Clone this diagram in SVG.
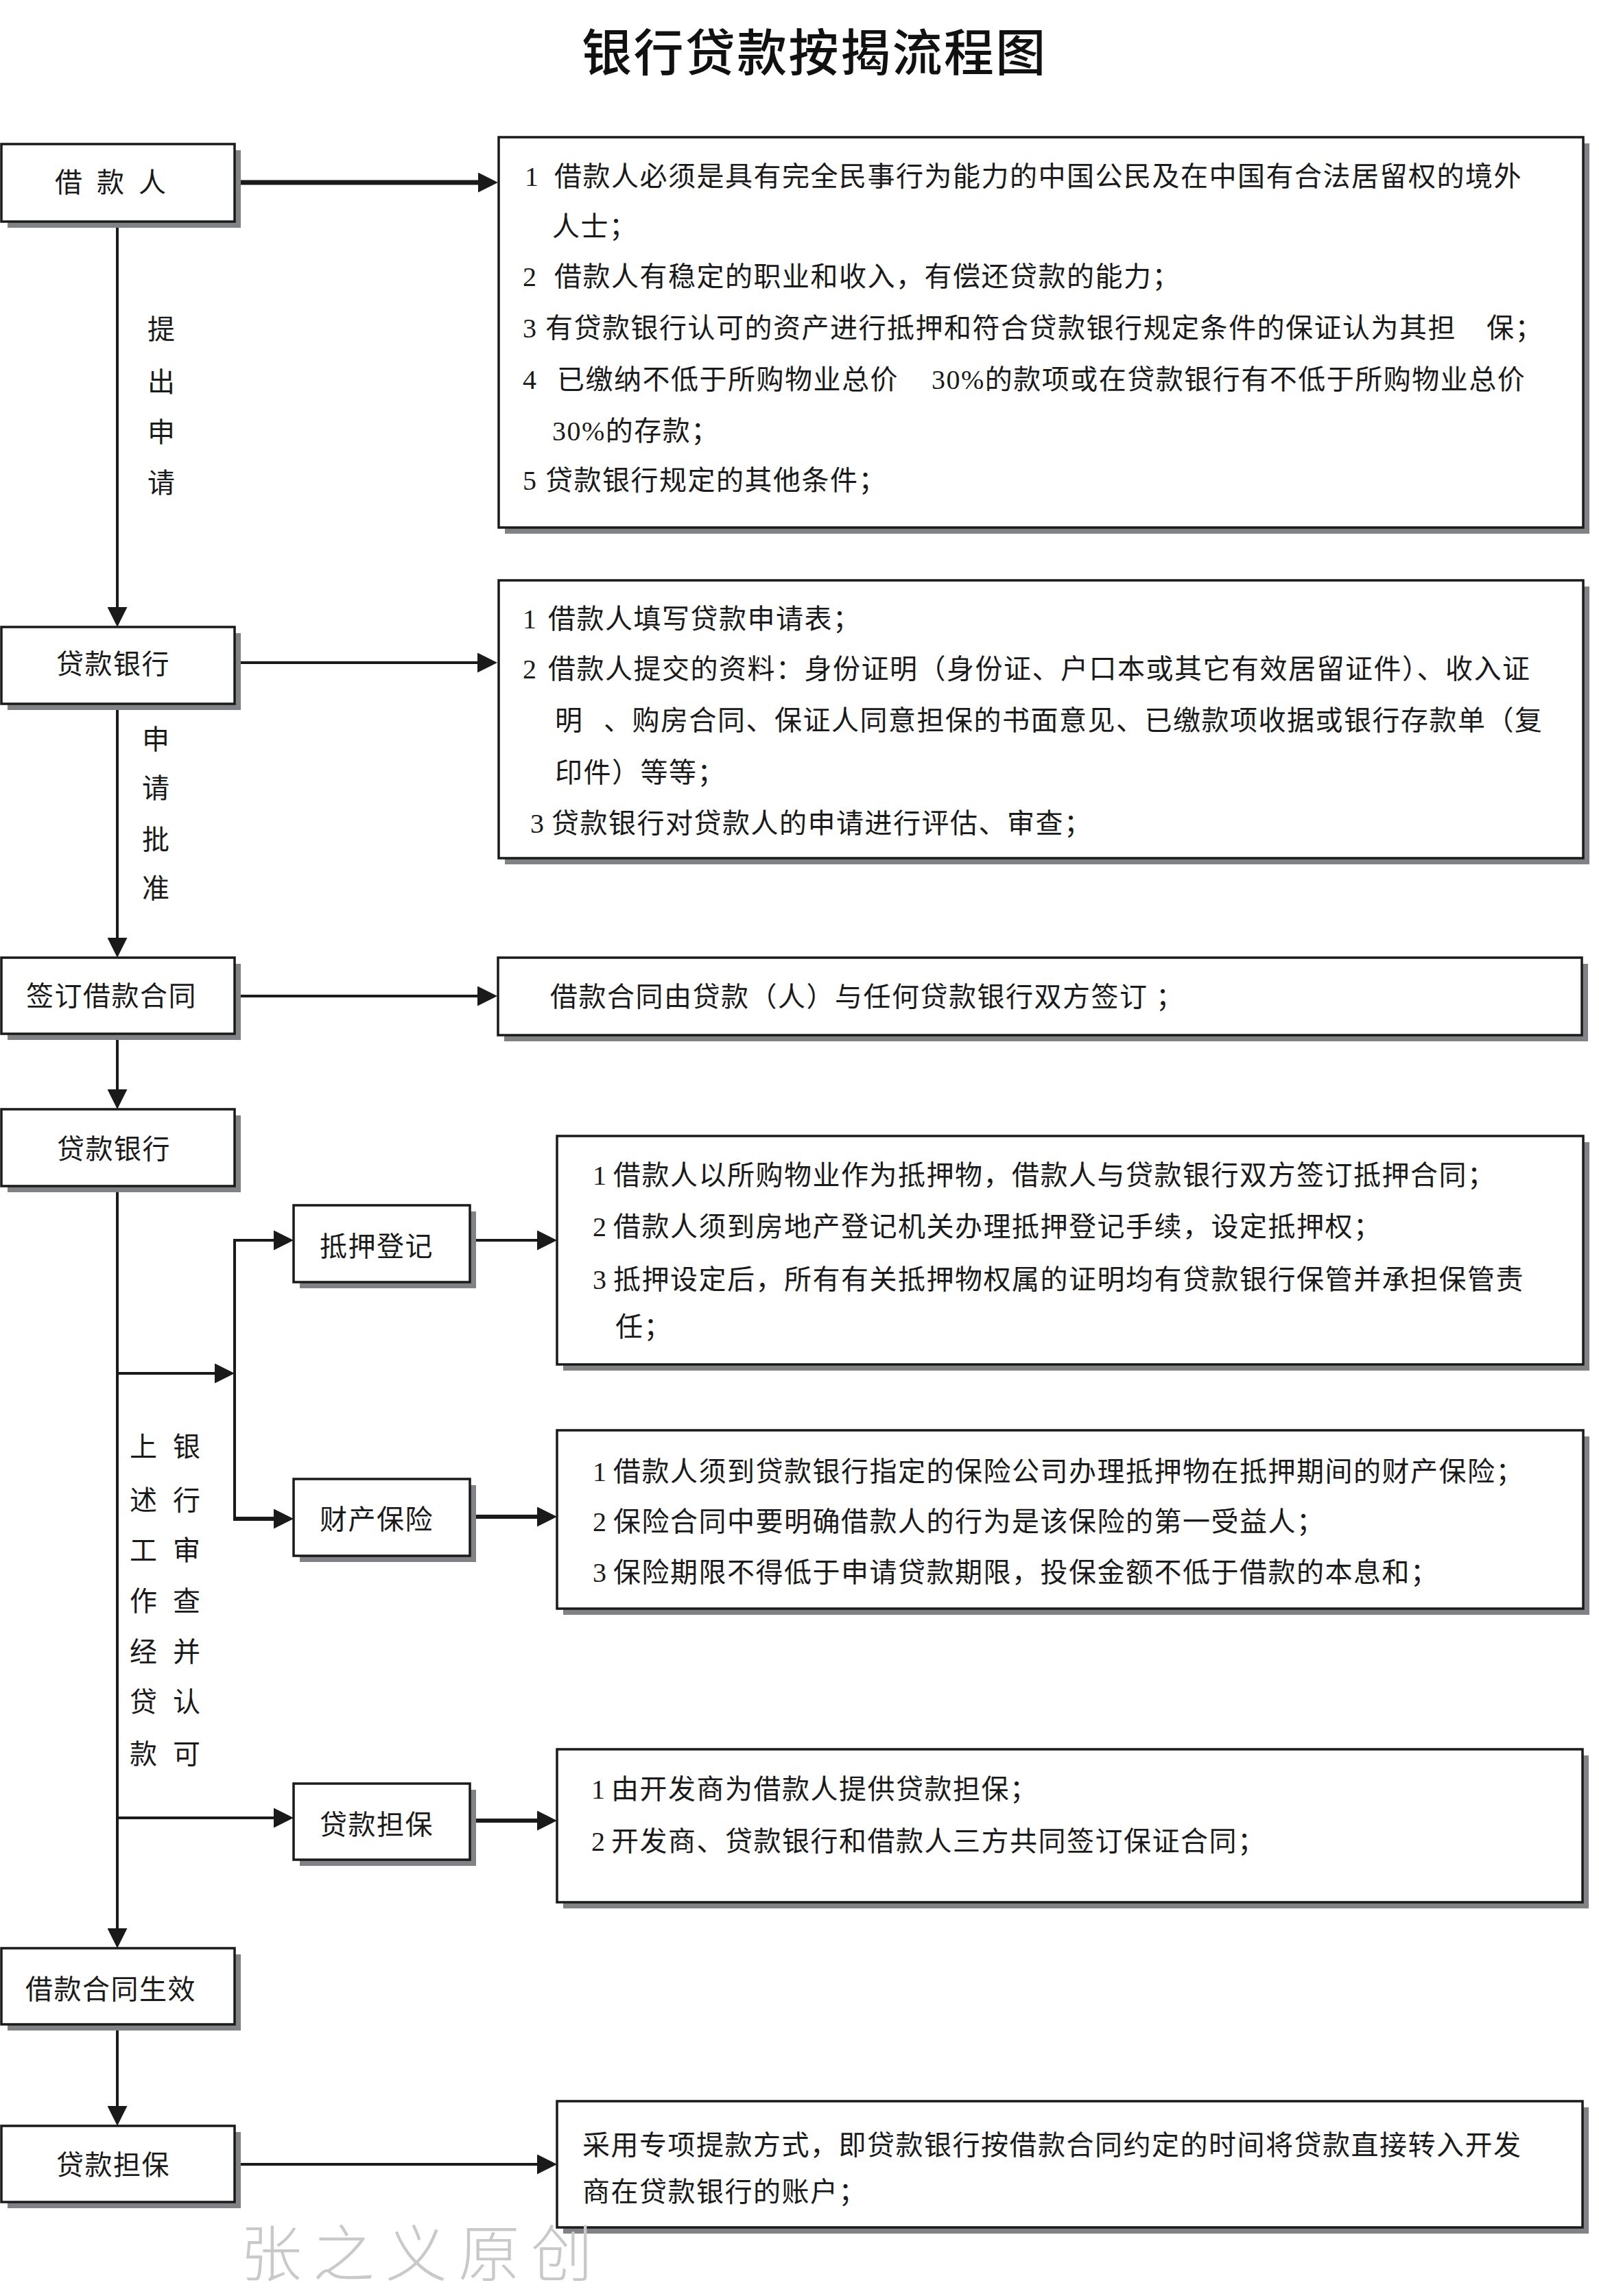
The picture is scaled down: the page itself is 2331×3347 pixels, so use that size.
<svg xmlns="http://www.w3.org/2000/svg" width="2331" height="3347" viewBox="0 0 2331 3347">
<style>
.bg{fill:#ffffff}
.box{fill:#ffffff;stroke:#1a1a1a;stroke-width:3.5}
.sh{fill:#808285}
.t{font-family:'Liberation Serif','Noto Sans CJK SC',serif;font-size:40px;fill:#1a1a1a;letter-spacing:1.5px}
.v{font-family:'Liberation Serif','Noto Sans CJK SC',serif;font-size:40px;fill:#1a1a1a;text-anchor:middle}
.c{stroke:#1a1a1a;stroke-width:4;fill:none}
.k{stroke-width:7}
.title{font-family:'Noto Sans CJK SC',sans-serif;font-size:73px;font-weight:500;fill:#111;letter-spacing:2.4px}
.wm{font-family:'Noto Sans CJK SC',sans-serif;font-size:90px;font-weight:300;fill:#c9c9c9;letter-spacing:16px}
</style>
<defs>
<marker id="ah" markerUnits="userSpaceOnUse" markerWidth="29" markerHeight="29" viewBox="0 0 29 29" refX="4" refY="14.5" orient="auto">
<path d="M0,0 L29,14.5 L0,29 z" fill="#1a1a1a"/>
</marker>
</defs>
<rect class="bg" x="0" y="0" width="2331" height="3347"/>

<text class="title" x="848" y="103">银行贷款按揭流程图</text>

<g id="connectors">
<line class="c" x1="171" y1="323" x2="171" y2="889" marker-end="url(#ah)"/>
<line class="c" x1="171" y1="1026" x2="171" y2="1371" marker-end="url(#ah)"/>
<line class="c" x1="171" y1="1507" x2="171" y2="1592" marker-end="url(#ah)"/>
<line class="c" x1="171" y1="1729" x2="171" y2="2815" marker-end="url(#ah)"/>
<line class="c" x1="171" y1="2951" x2="171" y2="3074" marker-end="url(#ah)"/>
<line class="c k" x1="343" y1="266" x2="701" y2="266" marker-end="url(#ah)"/>
<line class="c" x1="342" y1="966" x2="700" y2="966" marker-end="url(#ah)"/>
<line class="c" x1="342" y1="1452" x2="700" y2="1452" marker-end="url(#ah)"/>
<line class="c" x1="171" y1="2002" x2="317" y2="2002" marker-end="url(#ah)"/>
<line class="c" x1="342" y1="1806" x2="342" y2="2216"/>
<line class="c" x1="340" y1="1808" x2="403" y2="1808" marker-end="url(#ah)"/>
<line class="c" x1="340" y1="2214" x2="403" y2="2214" style="stroke-width:6" marker-end="url(#ah)"/>
<line class="c" x1="171" y1="2650" x2="403" y2="2650" marker-end="url(#ah)"/>
<line class="c" x1="685" y1="1808" x2="787" y2="1808" marker-end="url(#ah)"/>
<line class="c" x1="685" y1="2211" x2="787" y2="2211" style="stroke-width:6" marker-end="url(#ah)"/>
<line class="c" x1="685" y1="2654" x2="787" y2="2654" style="stroke-width:6" marker-end="url(#ah)"/>
<line class="c" x1="342" y1="3155" x2="787" y2="3155" marker-end="url(#ah)"/>
</g>

<g id="label-apply">
<text class="v" x="235" y="494">提</text>
<text class="v" x="235" y="571">出</text>
<text class="v" x="235" y="644">申</text>
<text class="v" x="235" y="718">请</text>
</g>
<g id="label-approve">
<text class="v" x="227" y="1092">申</text>
<text class="v" x="227" y="1163">请</text>
<text class="v" x="227" y="1238">批</text>
<text class="v" x="227" y="1309">准</text>
</g>
<g id="label-review">
<text class="v" x="209" y="2123">上</text>
<text class="v" x="209" y="2201">述</text>
<text class="v" x="209" y="2274">工</text>
<text class="v" x="209" y="2348">作</text>
<text class="v" x="209" y="2422">经</text>
<text class="v" x="209" y="2495">贷</text>
<text class="v" x="209" y="2571">款</text>
<text class="v" x="272" y="2123">银</text>
<text class="v" x="272" y="2201">行</text>
<text class="v" x="272" y="2274">审</text>
<text class="v" x="272" y="2348">查</text>
<text class="v" x="272" y="2422">并</text>
<text class="v" x="272" y="2495">认</text>
<text class="v" x="272" y="2571">可</text>
</g>

<g id="n-borrower">
<rect class="sh" x="11" y="219" width="340" height="113"/>
<rect class="box" x="2" y="210" width="340" height="113"/>
<text class="t" x="80 120 141 181 202" y="280">借 款 人</text>
</g>
<g id="n-bank1">
<rect class="sh" x="11" y="923" width="340" height="112"/>
<rect class="box" x="2" y="914" width="340" height="112"/>
<text class="t" x="82" y="982">贷款银行</text>
</g>
<g id="n-sign">
<rect class="sh" x="11" y="1405" width="340" height="111"/>
<rect class="box" x="2" y="1396" width="340" height="111"/>
<text class="t" x="38" y="1466">签订借款合同</text>
</g>
<g id="n-bank2">
<rect class="sh" x="11" y="1626" width="340" height="112"/>
<rect class="box" x="2" y="1617" width="340" height="112"/>
<text class="t" x="83" y="1689">贷款银行</text>
</g>
<g id="n-effective">
<rect class="sh" x="11" y="2849" width="340" height="111"/>
<rect class="box" x="2" y="2840" width="340" height="111"/>
<text class="t" x="37" y="2914">借款合同生效</text>
</g>
<g id="n-guarantee2">
<rect class="sh" x="11" y="3108" width="340" height="111"/>
<rect class="box" x="2" y="3099" width="340" height="111"/>
<text class="t" x="82" y="3170">贷款担保</text>
</g>

<g id="m-mortgage">
<rect class="sh" x="437" y="1766" width="257" height="112"/>
<rect class="box" x="428" y="1757" width="257" height="112"/>
<text class="t" x="466" y="1831">抵押登记</text>
</g>
<g id="m-insurance">
<rect class="sh" x="437" y="2165" width="257" height="112"/>
<rect class="box" x="428" y="2156" width="257" height="112"/>
<text class="t" x="466" y="2229">财产保险</text>
</g>
<g id="m-guarantee">
<rect class="sh" x="437" y="2609" width="257" height="111"/>
<rect class="box" x="428" y="2600" width="257" height="111"/>
<text class="t" x="466" y="2674">贷款担保</text>
</g>

<g id="r-conditions">
<rect class="sh" x="736" y="209" width="1581" height="569"/>
<rect class="box" x="727" y="200" width="1581" height="569"/>
<text class="t" y="271"><tspan x="765">1</tspan><tspan x="808">借款人必须是具有完全民事行为能力的中国公民及在中国有合法居留权的境外</tspan></text>
<text class="t" x="805" y="344">人士；</text>
<text class="t" y="417"><tspan x="762">2</tspan><tspan x="808">借款人有稳定的职业和收入，有偿还贷款的能力；</tspan></text>
<text class="t" y="492"><tspan x="762">3</tspan><tspan x="795">有贷款银行认可的资产进行抵押和符合贷款银行规定条件的保证认为其担</tspan><tspan x="2167">保；</tspan></text>
<text class="t" y="567"><tspan x="762">4</tspan><tspan x="812">已缴纳不低于所购物业总价</tspan><tspan x="1358">30%的款项或在贷款银行有不低于所购物业总价</tspan></text>
<text class="t" x="805" y="642">30%的存款；</text>
<text class="t" y="714"><tspan x="762">5</tspan><tspan x="795">贷款银行规定的其他条件；</tspan></text>
</g>

<g id="r-materials">
<rect class="sh" x="736" y="855" width="1581" height="405"/>
<rect class="box" x="727" y="846" width="1581" height="405"/>
<text class="t" y="916"><tspan x="762">1</tspan><tspan x="799">借款人填写贷款申请表；</tspan></text>
<text class="t" y="989"><tspan x="762">2</tspan><tspan x="799">借款人提交的资料：身份证明（身份证、户口本或其它有效居留证件）、收入证</tspan></text>
<text class="t" y="1064"><tspan x="809">明</tspan><tspan x="880">、购房合同、保证人同意担保的书面意见、已缴款项收据或银行存款单（复</tspan></text>
<text class="t" x="809" y="1140">印件）等等；</text>
<text class="t" y="1214"><tspan x="773">3</tspan><tspan x="804">贷款银行对贷款人的申请进行评估、审查；</tspan></text>
</g>

<g id="r-contract">
<rect class="sh" x="735" y="1405" width="1580" height="113"/>
<rect class="box" x="726" y="1396" width="1580" height="113"/>
<text class="t" x="802" y="1467">借款合同由贷款（人）与任何贷款银行双方签订 ；</text>
</g>

<g id="r-mortgage">
<rect class="sh" x="821" y="1665" width="1496" height="333"/>
<rect class="box" x="812" y="1656" width="1496" height="333"/>
<text class="t" y="1727"><tspan x="864">1</tspan><tspan x="894">借款人以所购物业作为抵押物，借款人与贷款银行双方签订抵押合同；</tspan></text>
<text class="t" y="1802"><tspan x="864">2</tspan><tspan x="894">借款人须到房地产登记机关办理抵押登记手续，设定抵押权；</tspan></text>
<text class="t" y="1879"><tspan x="864">3</tspan><tspan x="894">抵押设定后，所有有关抵押物权属的证明均有贷款银行保管并承担保管责</tspan></text>
<text class="t" x="897" y="1948">任；</text>
</g>

<g id="r-insurance">
<rect class="sh" x="821" y="2094" width="1496" height="260"/>
<rect class="box" x="812" y="2085" width="1496" height="260"/>
<text class="t" y="2159"><tspan x="864">1</tspan><tspan x="894">借款人须到贷款银行指定的保险公司办理抵押物在抵押期间的财产保险；</tspan></text>
<text class="t" y="2232"><tspan x="864">2</tspan><tspan x="894">保险合同中要明确借款人的行为是该保险的第一受益人；</tspan></text>
<text class="t" y="2306"><tspan x="864">3</tspan><tspan x="894">保险期限不得低于申请贷款期限，投保金额不低于借款的本息和；</tspan></text>
</g>

<g id="r-guarantee">
<rect class="sh" x="821" y="2559" width="1495" height="223"/>
<rect class="box" x="812" y="2550" width="1495" height="223"/>
<text class="t" y="2622"><tspan x="862">1</tspan><tspan x="891">由开发商为借款人提供贷款担保；</tspan></text>
<text class="t" y="2698"><tspan x="862">2</tspan><tspan x="891">开发商、贷款银行和借款人三方共同签订保证合同；</tspan></text>
</g>

<g id="r-disburse">
<rect class="sh" x="821" y="3072" width="1495" height="184"/>
<rect class="box" x="812" y="3063" width="1495" height="184"/>
<text class="t" x="849" y="3141">采用专项提款方式，即贷款银行按借款合同约定的时间将贷款直接转入开发</text>
<text class="t" x="849" y="3209">商在贷款银行的账户；</text>
</g>

<text class="wm" x="350" y="3318">张之义原创</text>
</svg>
